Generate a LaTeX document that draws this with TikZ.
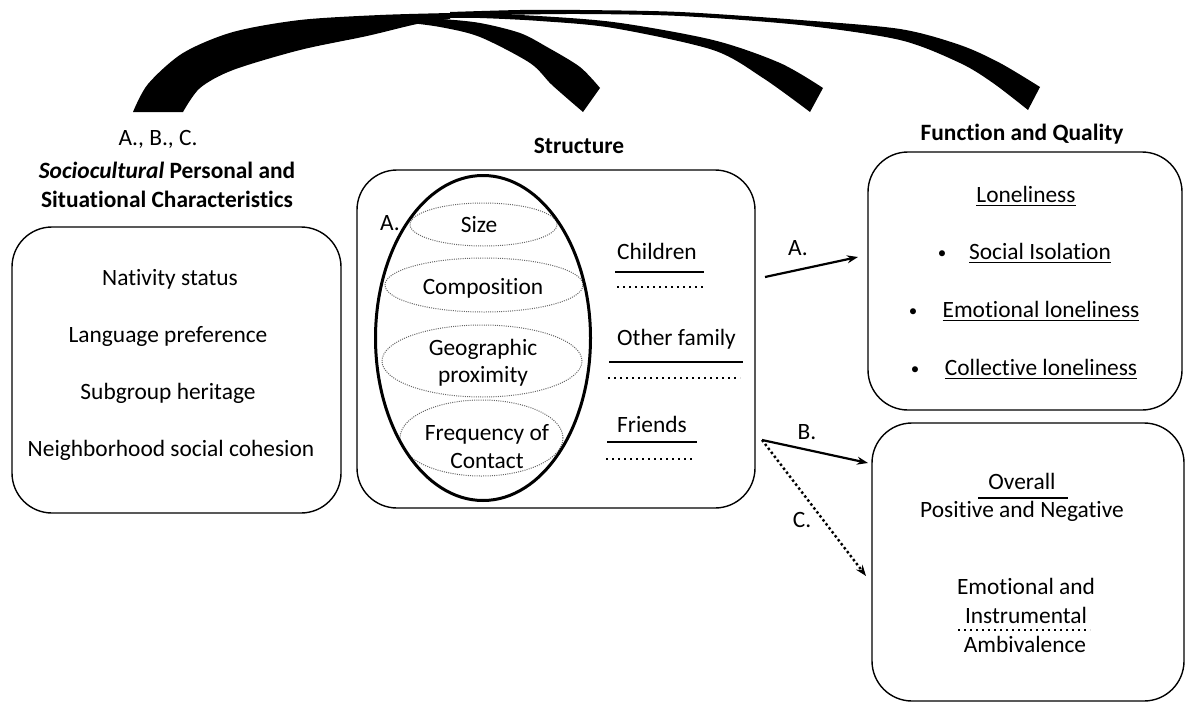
\documentclass[tikz,border=0pt]{standalone}
\usepackage{fontspec}
\setmainfont{Carlito}[Ligatures={NoCommon}]
\usetikzlibrary{shapes.geometric,arrows.meta}
\newcommand\myul[1]{\setbox0\hbox{#1}\rlap{\rule[-4pt]{\wd0}{1.5pt}}\box0}
\begin{document}
\begin{tikzpicture}[x=1pt,y=-1pt,
  txt/.style={inner sep=0pt, anchor=base, font=\fontsize{23.4}{28}\selectfont},
  hd/.style={inner sep=0pt, anchor=base, font=\fontsize{23.4}{28}\selectfont\bfseries},
  bul/.style={inner sep=0pt, anchor=base, font=\fontsize{17}{20}\selectfont},
  box/.style={draw, line width=1.4pt, rounded corners=40pt, inner sep=0pt},
  dotell/.style={ellipse, draw=black!60, line width=1pt, dash pattern=on 1pt off 1.2pt, inner sep=0pt},
  bigell/.style={ellipse, draw, line width=3pt, inner sep=0pt},
  solidbar/.style={line width=2.4pt},
  dotbar/.style={line width=2.4pt, dash pattern=on 2.4pt off 3.6pt},
  arr/.style={line width=2.2pt, -{Stealth[length=11pt,width=8pt]}},
  dotarr/.style={line width=2.4pt, dash pattern=on 2.4pt off 2.6pt, -{Stealth[length=11pt,width=8pt]}}
]
\useasboundingbox (0,0) rectangle (1188,704);

% ---------- top arcs ----------
\fill plot[smooth] coordinates {(133,112) (148,84) (183,53) (233,32) (300,20) (380,15) (450,13)}
  -- plot[smooth] coordinates {(450,19) (417,24) (367,36) (300,50) (233,70) (200,88) (183,112)} -- cycle;
\fill plot[smooth] coordinates {(380,17) (440,19) (480,23) (520,33) (547,47) (580,67) (600,88)}
  -- plot[smooth] coordinates {(583,112) (552,85) (530,63) (480,37) (440,27) (400,22) (380,22)} -- cycle;
\fill plot[smooth] coordinates {(450,13) (520,15) (613,22) (713,40) (780,63) (823,88)}
  -- plot[smooth] coordinates {(810,112) (763,78) (713,50) (613,28) (540,21) (480,18) (450,18)} -- cycle;
\fill plot[smooth] coordinates {(450,12) (520,10) (580,10) (680,12) (800,20) (900,29) (960,45) (1000,63) (1040,87)}
  -- plot[smooth] coordinates {(1028,110) (993,83) (960,63) (900,40) (800,25) (680,16) (580,14) (500,15) (450,17)} -- cycle;

% ---------- left ----------
\node[txt] (abc) at (158,145) {A., B., C.};
\node[hd] (lh1) at (167,178) {{\itshape Sociocultural} Personal and};
\node[hd] (lh2) at (167,207) {Situational Characteristics};
\node[box, minimum width=329pt, minimum height=286pt] (left) at (176.5,370) {};
\node[txt] (l1) at (170,285) {Nativity status};
\node[txt] (l2) at (168,342) {Language preference};
\node[txt] (l3) at (168,399) {Subgroup heritage};
\node[txt] (l4) at (171,456) {Neighborhood social cohesion};

% ---------- middle ----------
\node[hd] (sth) at (579,153) {Structure};
\node[box, minimum width=398pt, minimum height=338pt] (mid) at (556,339) {};
\node[dotell, minimum width=147pt, minimum height=43pt] (eS) at (483.5,224.5) {};
\node[dotell, minimum width=198pt, minimum height=54pt] (eC) at (484,285) {};
\node[dotell, minimum width=200pt, minimum height=72pt] (eG) at (482,361) {};
\node[dotell, minimum width=163pt, minimum height=76pt] (eF) at (481.5,438) {};
\node[bigell, minimum width=215pt, minimum height=325pt] (big) at (483,338) {};
\node[txt] (tA) at (390,230) {A.};
\node[txt] (tS) at (479,232) {Size};
\node[txt] (tC) at (483,294) {Composition};
\node[txt] (tG1) at (483,355) {Geographic};
\node[txt] (tG2) at (483,382) {proximity};
\node[txt] (tF1) at (487,440) {Frequency of};
\node[txt] (tF2) at (487,468) {Contact};

\node[txt, anchor=base west] (ch) at (617,259) {Children};
\node[txt, anchor=base west] (of) at (617,345) {Other family};
\node[txt, anchor=base west] (fr) at (617,432) {Friends};
\draw[solidbar] (615,272) -- (704,272);
\draw[dotbar] (617,287) -- (704,287);
\draw[solidbar] (609,362) -- (743,362);
\draw[dotbar] (608,378) -- (740,378);
\draw[solidbar] (607,442) -- (697,442);
\draw[dotbar] (606,459) -- (694,459);

% ---------- right top ----------
\node[hd] (fq) at (1022,140) {Function and Quality};
\node[box, minimum width=314pt, minimum height=258pt] (rt) at (1025,281) {};
\node[txt] (lon) at (1026,202) {\myul{Loneliness}};
\node[bul] (b1) at (942,258) {•};
\node[txt] (si) at (1040,259) {\myul{Social Isolation}};
\node[bul] (b2) at (913,316) {•};
\node[txt] (el) at (1041,317) {\myul{Emotional loneliness}};
\node[bul] (b3) at (915,374) {•};
\node[txt] (cl) at (1041,375) {\myul{Collective loneliness}};

% ---------- right bottom ----------
\node[box, minimum width=312pt, minimum height=278pt] (rb) at (1028,562) {};
\node[txt] (ov) at (1022,489) {Overall};
\draw[solidbar] (978,498) -- (1068,498);
\node[txt] (pn) at (1022,517) {Positive and Negative};
\node[txt] (ea) at (1026,594) {Emotional and};
\node[txt] (in) at (1026,623) {Instrumental};
\draw[dotbar] (958,630) -- (1090,630);
\node[txt] (am) at (1025,652) {Ambivalence};

% ---------- arrows ----------
\coordinate (aS) at (765,277);
\coordinate (aE) at (858,257);
\coordinate (bcS) at (762,440);
\coordinate (bE) at (868,463);
\coordinate (cE) at (866,576);
\draw[arr] (aS) -- (aE);
\draw[arr] (bcS) -- (bE);
\draw[dotarr] (bcS) -- (cE);
\node[txt] (lA) at (798,255) {A.};
\node[txt] (lB) at (807,439) {B.};
\node[txt] (lC) at (802,527) {C.};
\end{tikzpicture}
\end{document}
